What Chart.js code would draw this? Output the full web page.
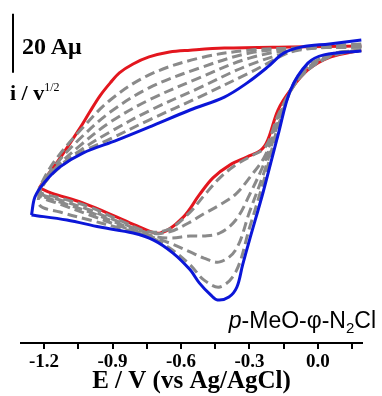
<!DOCTYPE html>
<html>
<head>
<meta charset="utf-8">
<script src="https://cdn.jsdelivr.net/npm/chart.js@4.4.1/dist/chart.umd.min.js"></script>
<style>
  html, body { margin: 0; padding: 0; background: #fff; }
  #wrap { position: relative; width: 382px; height: 396px; overflow: hidden; }
  canvas { position: absolute; left: 0; top: 0; }
  .ann { position: absolute; white-space: nowrap; color: #000; line-height: 1; }
  #bar { left: 22px; top: 33px; font: bold 24px "Liberation Serif", serif; }
  #ylab { left: 10px; top: 80px; font: bold 22px "Liberation Serif", serif; }
  #ylab sup { font-size: 12px; font-weight: normal; vertical-align: 9px; line-height: 0; }
  #comp { right: 6px; top: 307px; font: 23px "Liberation Sans", sans-serif; }
  #comp sub { font-size: 15px; vertical-align: -5px; line-height: 0; }
</style>
</head>
<body>
<div id="wrap">
  <canvas id="c" width="382" height="396"></canvas>
  <div class="ann" id="bar">20 Aμ</div>
  <div class="ann" id="ylab">i / v<sup>1/2</sup></div>
  <div class="ann" id="comp"><i>p</i>-MeO-φ-N<sub>2</sub>Cl</div>
</div>
<script>
// ---------- data (E in V vs Ag/AgCl, i / v^1/2 in µA units, arbitrary offset) ----------
const majorTicks = [-1.2, -0.9, -0.6, -0.3, 0.0];
const majorLabels = ['-1.2', '-0.9', '-0.6', '-0.3', '0.0'];
const minorTicks = [-1.05, -0.75, -0.45, -0.15, 0.15];

// blue (final scan)
const blueTopE = [0.19, 0.05, -0.07, -0.15, -0.22, -0.31, -0.41, -0.56, -0.74, -0.88, -1.03, -1.13, -1.20, -1.24, -1.255];
const blueTopI = [54.2, 52.9, 51.9, 49.8, 45.1, 39.7, 34.9, 30.5, 24.7, 20.3, 15.9, 11.2, 5.8, 1.0, -5.1];
const blueBotE = [-1.255, -1.10, -0.955, -0.81, -0.72, -0.635, -0.56, -0.52, -0.47, -0.44, -0.39, -0.355, -0.33, -0.30, -0.24, -0.175, -0.12, -0.044, 0.026, 0.19];
const blueBotI = [-5.1, -6.8, -9.2, -11.2, -13.6, -18.0, -23.7, -28.1, -32.2, -33.9, -32.9, -29.5, -22.0, -13.6, 2.7, 22.0, 37.3, 46.4, 49.2, 50.5];

// red (first scan)
const redTopE = [0.19, -0.12, -0.41, -0.56, -0.65, -0.74, -0.81, -0.87, -0.91, -0.955, -1.00, -1.04, -1.13, -1.19, -1.22];
const redTopI = [52.2, 51.9, 51.5, 50.8, 50.2, 48.5, 46.1, 43.1, 39.7, 35.3, 29.8, 24.7, 14.2, 7.8, 4.1];
const redBotE = [-1.22, -1.17, -1.03, -0.88, -0.78, -0.69, -0.59, -0.52, -0.46, -0.385, -0.31, -0.25, -0.22, -0.175, -0.12, -0.044, 0.057, 0.19];
const redBotI = [4.1, 2.4, -1.0, -5.8, -9.2, -11.2, -5.8, 1.7, 7.5, 11.9, 14.6, 16.9, 20.3, 30.5, 37.3, 44.1, 48.5, 50.8];

// grey dashed intermediate scans
const grayTopE = [0.19, -0.08, -0.30, -0.52, -0.74, -0.91, -1.04, -1.15, -1.21];
const grayBotE = [-1.22, -1.13, -1.00, -0.87, -0.74, -0.65, -0.56, -0.50, -0.43, -0.36, -0.30, -0.23, -0.17, -0.08, 0.05, 0.19];
const g1Top = [51.9, 51.5, 50.8, 48.1, 42.4, 33.9, 23.7, 13.6, 5.8];
const g2Top = [51.9, 51.5, 49.8, 44.7, 38.0, 29.8, 21.0, 11.9, 5.1];
const g3Top = [51.9, 51.2, 48.1, 41.4, 33.9, 26.4, 18.6, 10.8, 4.7];
const g4Top = [52.2, 50.8, 45.8, 38.0, 30.2, 23.1, 16.9, 10.2, 4.4];
const g5Top = [52.9, 51.2, 43.1, 34.9, 27.1, 20.7, 15.9, 9.8, 4.1];
const g1Bot = [2.7, 0.7, -2.4, -6.8, -10.8, -9.8, -4.1, 1.4, 7.5, 11.9, 14.6, 18.0, 29.5, 41.4, 48.5, 50.8];
const g2Bot = [2.4, 0.0, -3.4, -7.5, -11.2, -10.8, -7.5, -4.7, -1.7, 2.0, 7.5, 15.3, 28.8, 41.4, 48.8, 50.8];
const g3Bot = [2.0, -0.7, -4.1, -8.1, -11.9, -12.9, -12.2, -12.2, -11.2, -6.8, 1.7, 13.6, 28.1, 41.7, 48.8, 50.8];
const g4Bot = [1.4, -1.4, -5.1, -8.8, -12.2, -14.6, -17.6, -19.7, -21.0, -16.9, -4.1, 10.8, 27.1, 42.0, 49.2, 50.8];
const g5Bot = [-1.7, -4.1, -6.8, -9.5, -12.5, -16.3, -22.0, -27.1, -29.5, -24.4, -9.5, 8.5, 26.1, 42.7, 49.2, 50.8];

// scale bar: 20 µA
const scaleBarI = [43.1, 63.1];

// ---------- build ----------
const pts = (E, I) => E.map((e, k) => ({ x: e, y: I[k] }));
const RED = '#e3161e', BLUE = '#0b16d8', GRAY = '#8a8a8a';

function solid(data, color) {
  return { data, borderColor: color, borderWidth: 3, showLine: true, pointRadius: 0, tension: 0.35, fill: false };
}
function dashed(top, bot) {
  return { data: pts(grayTopE, top).concat(pts(grayBotE, bot)), borderColor: GRAY, borderWidth: 3,
           borderDash: [10, 5], showLine: true, pointRadius: 0, tension: 0.35, fill: false };
}

const datasets = [
  solid(pts(blueTopE, blueTopI), BLUE),
  solid(pts(blueBotE, blueBotI), BLUE),
  dashed(g5Top, g5Bot),
  dashed(g4Top, g4Bot),
  dashed(g3Top, g3Bot),
  dashed(g2Top, g2Bot),
  dashed(g1Top, g1Bot),
  solid(pts(redTopE, redTopI), RED),
  solid(pts(redBotE, redBotI), RED)
];

const allTicks = majorTicks.concat(minorTicks).sort((a, b) => a - b);

const scaleBarPlugin = {
  id: 'scaleBar',
  afterDraw(chart) {
    const ctx = chart.ctx, ys = chart.scales.y;
    const x = chart.chartArea.left - 8;
    ctx.save();
    ctx.strokeStyle = '#000';
    ctx.lineWidth = 2;
    ctx.beginPath();
    ctx.moveTo(x, ys.getPixelForValue(scaleBarI[1]));
    ctx.lineTo(x, ys.getPixelForValue(scaleBarI[0]));
    ctx.stroke();
    ctx.restore();
  }
};

new Chart(document.getElementById('c'), {
  type: 'scatter',
  data: { datasets },
  plugins: [scaleBarPlugin],
  options: {
    responsive: false,
    animation: false,
    devicePixelRatio: 1,
    layout: { padding: { left: 21, right: 20, top: 0, bottom: 0 } },
    plugins: { legend: { display: false }, tooltip: { enabled: false } },
    scales: {
      x: {
        type: 'linear', min: -1.301, max: 0.193,
        afterBuildTicks: (axis) => { axis.ticks = allTicks.map(v => ({ value: v })); },
        afterFit: (axis) => { axis.height = 53; },
        ticks: {
          autoSkip: false, maxRotation: 0, padding: 4, color: '#000',
          font: { family: 'Liberation Serif', weight: 'bold', size: 19, lineHeight: 1 },
          callback: (v) => {
            const k = majorTicks.findIndex(t => Math.abs(t - v) < 1e-6);
            return k >= 0 ? majorLabels[k] : '';
          }
        },
        grid: { drawOnChartArea: false, drawTicks: true, tickLength: 6, tickColor: '#000', lineWidth: 2, color: '#000' },
        border: { display: true, color: '#000', width: 2 },
        title: {
          display: true, text: 'E / V (vs Ag/AgCl)', color: '#000',
          font: { family: 'Liberation Serif', weight: 'bold', size: 25, lineHeight: 1 },
          padding: { top: 0, bottom: 2 }
        }
      },
      y: { display: false, min: -48.5, max: 67.8 }
    }
  }
});
</script>
</body>
</html>
